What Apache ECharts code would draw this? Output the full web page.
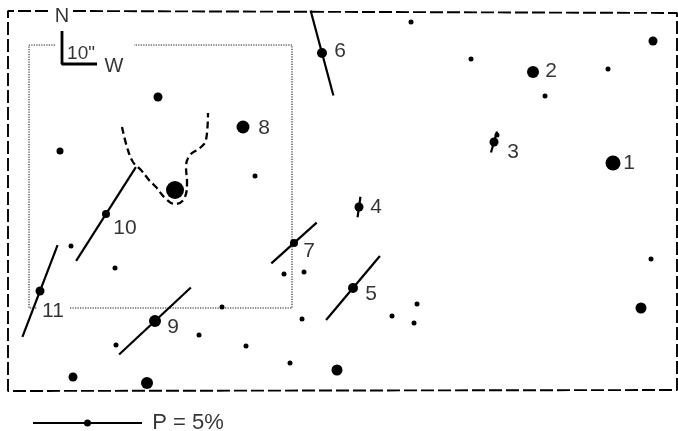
<!DOCTYPE html>
<html><head><meta charset="utf-8">
<script src="https://cdn.jsdelivr.net/npm/echarts@6/dist/echarts.min.js"></script>
<style>html,body{margin:0;padding:0;background:#fff}#c{width:678px;height:431px}</style>
</head><body><div id="c"></div>
<script>
// ---- Field stars (plate offsets, arbitrary plate units) ----
const fieldX    = [411, 471, 545, 608, 653, 158,  60, 255, 175,  71, 115, 284, 304, 222, 302, 116, 199, 246, 290,  73, 147, 337, 392, 414, 417, 651, 641, 497];
const fieldY    = [ 22,  59,  96,  69,  41,  97, 151, 176, 190, 246, 268, 274, 272, 307, 319, 345, 335, 346, 363, 377, 383, 370, 316, 323, 304, 259, 308, 135];
const fieldSize = [  5,   5,   5,   5,   9,   9,   7,   5,  18,   5,   5,   5,   5,   5,   5,   5,   5,   5,   5,   9,  12,  11,   5,   5,   5,   5,  11,   5];

// ---- Numbered stars ----
const starLabel = ['1', '2', '3', '4', '5', '6', '7', '8', '9', '10', '11'];
const starX     = [613, 533, 494, 359, 353, 322, 294, 243, 155, 106,  40];
const starY     = [163,  72, 142, 207, 288,  53, 243, 127, 321, 214, 291];
const starSize  = [ 15,  12,   9,   9,  10,  10,   8,  13,  12,   8,   9];
const labelX    = [629, 551, 513, 376, 371, 340, 309, 264, 173, 125,  53];
const labelY    = [163,  71, 152, 207, 294,  51, 251, 128, 327, 228, 311];

// ---- Polarization vectors: P (%) and position angle (deg, N through E) ----
const vecStar = ['3', '4', '5', '6', '7', '9', '10', '11'];
const vecP    = [1.0, 0.95, 3.84, 4.04, 2.8, 4.5, 5.1, 4.5];
const vecPA   = [164, 172, 140, 15, 132, 133, 147.5, 159];
const unitsPerPercent = 21.8;   // vector scale: P = 5% bar

// ---- Dashed boundary contour ----
const contourX = [122, 127, 133, 141, 149, 156, 165, 175, 184, 187, 186, 190, 200, 206, 208];
const contourY = [127, 147, 162, 170, 180, 187, 198, 204, 199, 182, 167, 155, 148, 140, 113];

// ---- Frames ----
const outerX = [48, 8, 8, 677, 677, 72];
const outerY = [11, 11, 391, 390, 13, 11];
const innerAX = [55, 29, 29, 37],  innerAY = [45, 45, 308, 308];
const innerBX = [70, 292, 292, 134], innerBY = [308, 308, 45, 45];

const FONT = "'Liberation Sans', Arial, Helvetica, sans-serif";
const zip = (xs, ys) => xs.map((x, i) => [x, ys[i]]);

const series = [];
const lineSeries = (data, style) => ({
  type: 'line', data, symbol: 'none', silent: true, clip: false,
  lineStyle: Object.assign({ color: '#000', width: 2, opacity: 1 }, style), z: 2
});

series.push(lineSeries(zip(outerX, outerY), { width: 1.9, type: [13, 4], color: '#000' }));
series.push(lineSeries(zip(innerAX, innerAY), { width: 1.1, type: [1.3, 1.2], color: '#222' }));
series.push(lineSeries(zip(innerBX, innerBY), { width: 1.1, type: [1.3, 1.2], color: '#222' }));
series.push(Object.assign(lineSeries(zip(contourX, contourY), { width: 2.3, type: [7, 4] }), { smooth: 0.4 }));

// polarization vectors
vecStar.forEach((lab, i) => {
  const k = starLabel.indexOf(lab);
  const cx = starX[k], cy = starY[k];
  const half = vecP[i] * unitsPerPercent / 2;
  const t = vecPA[i] * Math.PI / 180;
  const dx = Math.sin(t) * half, dy = Math.cos(t) * half;
  series.push(lineSeries([[cx - dx, cy - dy], [cx + dx, cy + dy]], { width: 2.2 }));
});

// legend bar: P = 5%
const legP = 5, legX0 = 33, legY = 423;
series.push(lineSeries([[legX0, legY], [legX0 + legP * unitsPerPercent, legY]], { width: 1.9 }));
series.push({ type: 'scatter', silent: true, symbolSize: 7, itemStyle: { color: '#000', opacity: 1 },
  data: [[legX0 + legP * unitsPerPercent / 2, legY]], z: 4 });

// compass
const compassX = [62, 62, 97], compassY = [31, 64, 64];
series.push(lineSeries(zip(compassX, compassY), { width: 2.8 }));

// stars
series.push({ type: 'scatter', silent: true, symbol: 'circle', itemStyle: { color: '#000', opacity: 1 }, z: 5,
  data: fieldX.map((x, i) => ({ value: [x, fieldY[i]], symbolSize: fieldSize[i] })) });
series.push({ type: 'scatter', silent: true, symbol: 'circle', itemStyle: { color: '#000', opacity: 1 }, z: 5,
  data: starX.map((x, i) => ({ value: [x, starY[i]], symbolSize: starSize[i] })) });

// texts
const textItems = starLabel.map((t, i) => ({ value: [labelX[i], labelY[i]], txt: t, fs: 21 }));
textItems.push({ value: [62, 16], txt: 'N', fs: 20 });
textItems.push({ value: [81, 54], txt: '10"', fs: 19 });
textItems.push({ value: [114, 66], txt: 'W', fs: 20 });
textItems.push({ value: [188, 423], txt: 'P = 5%', fs: 22 });
series.push({
  type: 'scatter', silent: true, symbol: 'rect', symbolSize: 1, itemStyle: { color: 'rgba(0,0,0,0)' }, z: 6,
  data: textItems.map(d => ({ value: d.value,
    label: { show: true, position: 'inside', formatter: d.txt, fontSize: d.fs, color: '#000',
      fontFamily: FONT, align: 'center', verticalAlign: 'middle' } }))
});

const chart = echarts.init(document.getElementById('c'), null, { renderer: 'canvas' });
chart.setOption({
  animation: false,
  backgroundColor: '#fff',
  grid: { left: 0, right: 0, top: 0, bottom: 0 },
  xAxis: { type: 'value', min: 0, max: 678, show: false },
  yAxis: { type: 'value', min: 0, max: 431, inverse: true, show: false },
  series
});
</script></body></html>
